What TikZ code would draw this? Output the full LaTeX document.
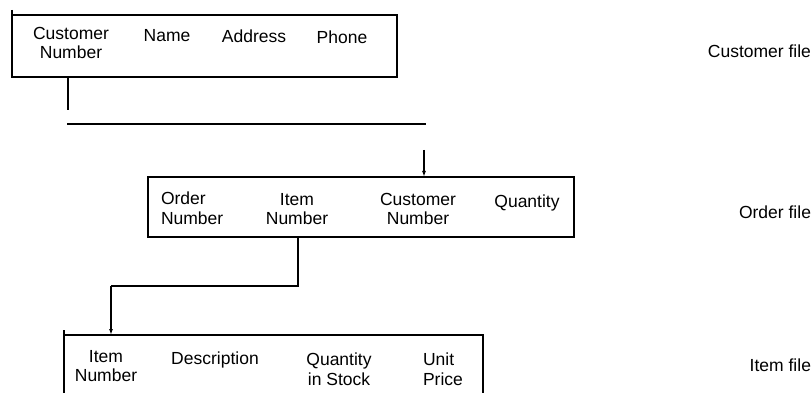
\documentclass[tikz,border=0pt]{standalone}
\usepackage{fontspec}
\setmainfont{Liberation Sans}
\usetikzlibrary{arrows.meta}

\begin{document}
\begin{tikzpicture}[x=1pt, y=-1pt,
  every node/.style={inner sep=0pt, outer sep=0pt,
    font=\fontsize{17.5}{19.5}\selectfont},
  recbox/.style={draw, line width=1.6pt, anchor=north west},
  field/.style={anchor=north, align=center},
  fieldl/.style={anchor=north west, align=left},
  filelabel/.style={anchor=north east},
  link/.style={line width=1.9pt},
  bar/.style={line width=2.8pt},
  feed/.style={line width=1.4pt, -{Latex[length=6pt, width=4pt]}}
]
\useasboundingbox (0,0) rectangle (812,393);

% ---- Customer file record ----
\node[recbox, minimum width=385pt, minimum height=62pt] (cust) at (12,15) {};
\coordinate (custtick) at (12,10);
\draw[line width=1.6pt] (custtick) -- (cust.north west);
\node[field] (cnum) at (71,27) {Customer\\Number};
\node[field] (cname) at (167,29) {Name};
\node[field] (caddr) at (254,30) {Address};
\node[field] (cphone) at (342,31) {Phone};
\node[filelabel] (custlbl) at (811,45) {Customer file};

% key of the customer record, and the bar it joins
\coordinate (cdrop) at (68,110);
\draw[link] (cust.south -| cdrop) -- (cdrop);
\coordinate (barl) at (67,124);
\coordinate (barr) at (426,124);
\draw[bar] (barl) -- (barr);

% ---- Order file record ----
\node[recbox, minimum width=426pt, minimum height=60pt] (ord) at (148,177) {};
\coordinate (ofeed) at (424,150);
\draw[feed] (ofeed) -- (ofeed |- ord.north);
\node[fieldl] (onum) at (161,192) {Order\\Number};
\node[field] (oitem) at (297,193) {Item\\Number};
\node[field] (ocust) at (418,193) {Customer\\Number};
\node[field] (oqty) at (527,195) {Quantity};
\node[filelabel] (ordlbl) at (811,206) {Order file};

% ---- Item file record (cut off at the bottom) ----
\coordinate (itl) at (64,335);
\coordinate (itr) at (483,335);
\coordinate (itlt) at (64,330);
\coordinate (itlb) at (64,393);
\coordinate (itrb) at (483,393);
\draw[line width=1.7pt] (itlt) -- (itlb);
\draw[line width=1.7pt] (itl) -- (itr) -- (itrb);
\node[field] (inum) at (106,350) {Item\\Number};
\node[field] (idesc) at (215,352) {Description};
\node[field] (istock) at (339,353) {Quantity\\in Stock};
\node[fieldl] (iprice) at (423,353) {Unit\\Price};
\node[filelabel] (itemlbl) at (811,359) {Item file};

% order record's item number leads to the item record
\coordinate (ojog) at (298,286);
\coordinate (itarget) at (111,335);
\draw[link] (ord.south -| ojog) -- (ojog) -- (ojog -| itarget);
\draw[feed] (ojog -| itarget) -- (itarget);
\end{tikzpicture}
\end{document}
